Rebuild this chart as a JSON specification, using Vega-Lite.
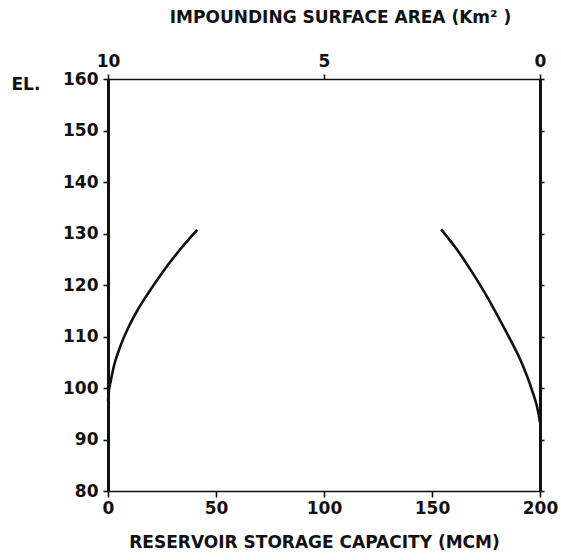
{
  "$schema": "https://vega.github.io/schema/vega-lite/v6.json",
  "width": 432,
  "height": 412,
  "autosize": "none",
  "padding": {"left": 108, "top": 79, "right": 21, "bottom": 69},
  "background": "white",
  "config": {
    "view": {"stroke": null},
    "axis": {
      "grid": false,
      "labelFont": "DejaVu Sans",
      "labelFontWeight": "bold",
      "labelFontSize": 17,
      "labelColor": "#111",
      "labelFlush": false,
      "labelOverlap": false,
      "titleFont": "DejaVu Sans",
      "titleFontWeight": "bold",
      "titleFontSize": 17,
      "titleColor": "#111",
      "domainColor": "#111",
      "tickColor": "#111",
      "tickWidth": 1.6
    }
  },
  "datasets": {
    "storage": [
      {"capacity": 0, "elevation": 97.5},
      {"capacity": 0.3, "elevation": 99.0},
      {"capacity": 1.2, "elevation": 101.2},
      {"capacity": 2.7, "elevation": 104.2},
      {"capacity": 5.8, "elevation": 108.2},
      {"capacity": 9.6, "elevation": 111.9},
      {"capacity": 13.5, "elevation": 115.0},
      {"capacity": 18.9, "elevation": 118.6},
      {"capacity": 25.1, "elevation": 122.4},
      {"capacity": 32.8, "elevation": 126.6},
      {"capacity": 41.3, "elevation": 130.7}
    ],
    "area": [
      {"area": 0, "elevation": 93.3},
      {"area": 0.04, "elevation": 95.3},
      {"area": 0.19, "elevation": 99.7},
      {"area": 0.42, "elevation": 104.8},
      {"area": 0.7, "elevation": 109.6},
      {"area": 0.96, "elevation": 113.7},
      {"area": 1.23, "elevation": 117.8},
      {"area": 1.58, "elevation": 122.6},
      {"area": 1.89, "elevation": 126.5},
      {"area": 2.29, "elevation": 130.8}
    ]
  },
  "layer": [
    {
      "data": {"name": "storage"},
      "mark": {"type": "line", "color": "#111", "strokeWidth": 2.6, "interpolate": "monotone"},
      "encoding": {
        "x": {
          "field": "capacity",
          "type": "quantitative",
          "scale": {"domain": [0, 200], "nice": false},
          "axis": {
            "orient": "bottom",
            "values": [0, 50, 100, 150, 200],
            "title": "RESERVOIR STORAGE CAPACITY (MCM)",
            "domainWidth": 1.6,
            "tickSize": 6,
            "labelPadding": 3,
            "titleX": 206,
            "titleY": 51,
            "titleAlign": "center",
            "titleBaseline": "middle"
          }
        },
        "y": {
          "field": "elevation",
          "type": "quantitative",
          "scale": {"domain": [80, 160], "nice": false},
          "axis": {
            "orient": "left",
            "values": [80, 90, 100, 110, 120, 130, 140, 150, 160],
            "title": "EL.",
            "titleAngle": 0,
            "titleX": -97,
            "titleY": 5,
            "titleAlign": "left",
            "titleBaseline": "middle",
            "domainWidth": 3,
            "tickSize": 5,
            "labelPadding": 5
          }
        }
      }
    },
    {
      "data": {"name": "area"},
      "mark": {"type": "line", "color": "#111", "strokeWidth": 2.6, "interpolate": "monotone"},
      "encoding": {
        "x": {
          "field": "area",
          "type": "quantitative",
          "scale": {"domain": [0, 10], "reverse": true, "nice": false},
          "axis": {
            "orient": "top",
            "values": [0, 5, 10],
            "title": "IMPOUNDING SURFACE AREA (Km² )",
            "domainWidth": 1.6,
            "tickSize": 5,
            "labelPadding": 4,
            "titleX": 232,
            "titleY": -62,
            "titleAlign": "center",
            "titleBaseline": "middle"
          }
        },
        "y": {
          "field": "elevation",
          "type": "quantitative",
          "scale": {"domain": [80, 160], "nice": false},
          "axis": {
            "orient": "right",
            "values": [80, 90, 100, 110, 120, 130, 140, 150, 160],
            "labels": false,
            "title": null,
            "domainWidth": 3,
            "tickSize": 4
          }
        }
      }
    }
  ],
  "resolve": {"scale": {"x": "independent", "y": "independent"}}
}
